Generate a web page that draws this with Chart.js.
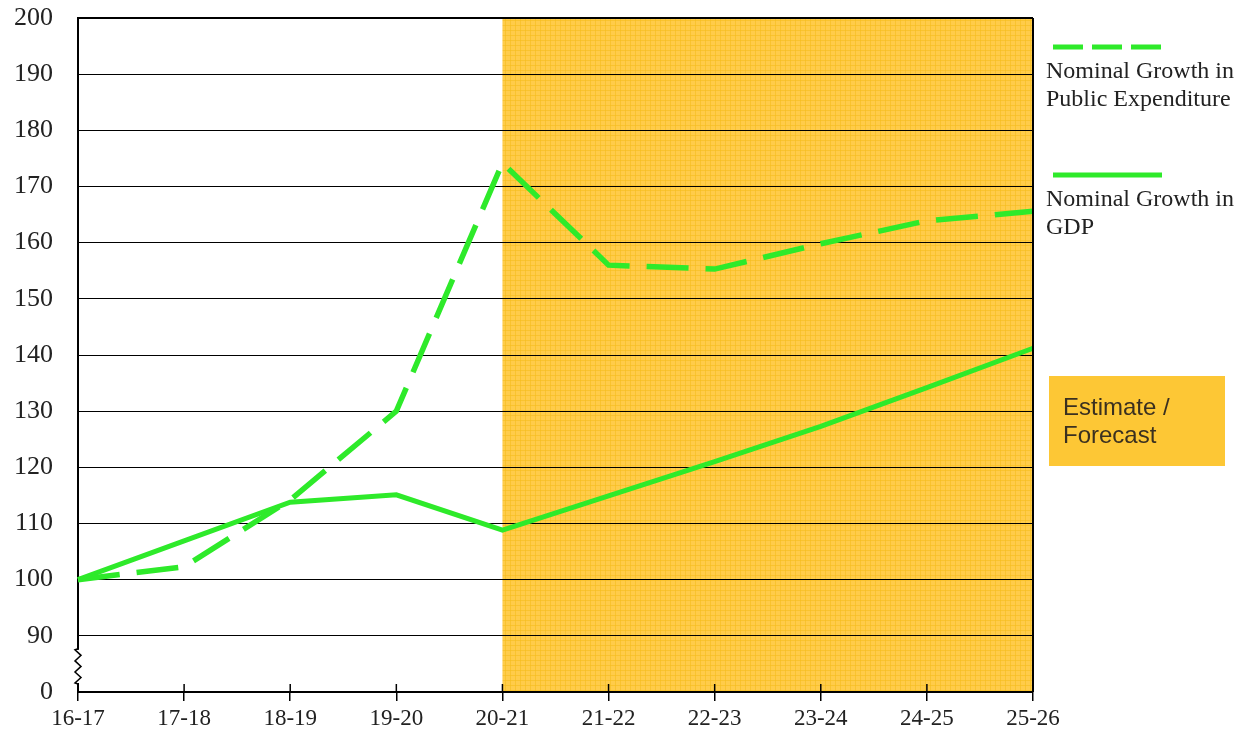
<!DOCTYPE html>
<html>
<head>
<meta charset="utf-8">
<script src="https://cdn.jsdelivr.net/npm/chart.js@4.4.0/dist/chart.umd.min.js"></script>
<style>
  html, body { margin: 0; padding: 0; background: #fff; }
  #wrap { width: 1251px; height: 738px; }
</style>
</head>
<body>
<div id="wrap"><canvas id="chart" width="1251" height="738"></canvas></div>
<script>
// chart data
const years = ['16-17', '17-18', '18-19', '19-20', '20-21', '21-22', '22-23', '23-24', '24-25', '25-26'];
const publicExpenditure = [100, 102.3, 114.2, 130, 174.2, 156, 155.3, 159.8, 163.9, 165.6];
const gdp = [100, 106.9, 113.8, 115.1, 108.8, 114.9, 121, 127.3, 134.2, 141.2];
const yTicks = [80, 90, 100, 110, 120, 130, 140, 150, 160, 170, 180, 190, 200];
const forecastFrom = '20-21';
const forecastTo = '25-26';
const legendItems = [
  { lines: ['Nominal Growth in', 'Public Expenditure'], dashed: true },
  { lines: ['Nominal Growth in', 'GDP'], dashed: false }
];
const forecastLabel = ['Estimate /', 'Forecast'];

const GREEN = '#2EEA2A';
const SERIF = '"Liberation Serif", "Times New Roman", serif';

// orange cross-hatched fill
function makePattern(ctx) {
  const c = document.createElement('canvas');
  c.width = 5; c.height = 5;
  const p = c.getContext('2d');
  p.fillStyle = '#FFCC4A';
  p.fillRect(0, 0, 5, 5);
  p.fillStyle = 'rgba(245,188,30,0.6)';
  p.fillRect(0, 0, 1, 5);
  p.fillRect(0, 0, 5, 1);
  return ctx.createPattern(c, 'repeat');
}

const decorPlugin = {
  id: 'decor',
  beforeDraw(chart) {
    const ctx = chart.ctx;
    const x = chart.scales.x, a = chart.chartArea;
    const x0 = x.getPixelForValue(years.indexOf(forecastFrom));
    const x1 = x.getPixelForValue(years.indexOf(forecastTo));
    ctx.save();
    ctx.fillStyle = makePattern(ctx);
    ctx.fillRect(x0, a.top, x1 - x0, a.bottom - a.top);
    ctx.restore();
  },
  afterDraw(chart) {
    const ctx = chart.ctx;
    const a = chart.chartArea;
    const x = chart.scales.x, y = chart.scales.y;
    ctx.save();

    // right border
    ctx.strokeStyle = '#000';
    ctx.lineWidth = 2;
    ctx.beginPath();
    ctx.moveTo(a.right, a.top);
    ctx.lineTo(a.right, a.bottom);
    ctx.stroke();

    // x tick marks extend above the axis too
    ctx.lineWidth = 1.5;
    years.forEach((_, i) => {
      const px = x.getPixelForValue(i);
      ctx.beginPath();
      ctx.moveTo(px, a.bottom - 8);
      ctx.lineTo(px, a.bottom);
      ctx.stroke();
    });

    // axis break (zigzag)
    const yTop = y.getPixelForValue(90) + 14;
    const yBot = a.bottom - 9;
    ctx.fillStyle = '#fff';
    ctx.fillRect(a.left - 3, yTop, 6, yBot - yTop);
    ctx.strokeStyle = '#000';
    ctx.lineWidth = 1.5;
    ctx.beginPath();
    ctx.moveTo(a.left, yTop - 1);
    const steps = 6;
    for (let i = 0; i <= steps; i++) {
      const yy = yTop + (yBot - yTop) * i / steps;
      ctx.lineTo(a.left + (i % 2 === 0 ? -3 : 3), yy);
    }
    ctx.lineTo(a.left, yBot + 1);
    ctx.stroke();

    // legend on the right
    const lx = a.right + 20;
    const tops = [47, 175];
    legendItems.forEach((item, i) => {
      const ly = tops[i];
      ctx.strokeStyle = GREEN;
      ctx.lineWidth = 5;
      ctx.setLineDash(item.dashed ? [30, 9] : []);
      ctx.beginPath();
      ctx.moveTo(lx, ly);
      ctx.lineTo(lx + 109, ly);
      ctx.stroke();
      ctx.setLineDash([]);
      ctx.fillStyle = '#222';
      ctx.font = '24px ' + SERIF;
      ctx.textAlign = 'left';
      ctx.textBaseline = 'alphabetic';
      item.lines.forEach((t, j) => ctx.fillText(t, lx - 7, ly + 31 + j * 28));
    });

    // forecast box
    const bx = a.right + 16, by = 376;
    ctx.fillStyle = '#FDC735';
    ctx.fillRect(bx, by, 176, 90);
    ctx.fillStyle = '#3a3020';
    ctx.font = '24px "Liberation Sans", Arial, sans-serif';
    forecastLabel.forEach((t, j) => ctx.fillText(t, bx + 14, by + 39 + j * 28));

    ctx.restore();
  }
};

new Chart(document.getElementById('chart'), {
  type: 'line',
  data: {
    labels: years,
    datasets: [
      {
        label: 'Nominal Growth in Public Expenditure',
        data: publicExpenditure,
        borderColor: GREEN,
        borderWidth: 5.5,
        borderDash: [42, 17],
        pointRadius: 0,
        tension: 0,
        fill: false
      },
      {
        label: 'Nominal Growth in GDP',
        data: gdp,
        borderColor: GREEN,
        borderWidth: 5,
        pointRadius: 0,
        tension: 0,
        fill: false
      }
    ]
  },
  options: {
    responsive: false,
    animation: false,
    layout: { padding: { top: 18, right: 218, left: 0, bottom: 0 } },
    plugins: {
      legend: { display: false },
      tooltip: { enabled: false }
    },
    scales: {
      x: {
        offset: false,
        grid: { display: true, drawOnChartArea: false, drawTicks: true, tickLength: 9, color: '#000', lineWidth: 1.5 },
        border: { display: true, color: '#000', width: 2 },
        ticks: { color: '#222', font: { family: SERIF, size: 23 }, padding: 4, maxRotation: 0, autoSkip: false },
        afterFit(scale) { scale.height = 46; }
      },
      y: {
        min: yTicks[0],
        max: yTicks[yTicks.length - 1],
        afterBuildTicks(scale) { scale.ticks = yTicks.map(v => ({ value: v })); },
        grid: {
          drawTicks: false,
          color: ctx => ctx.tick && ctx.tick.value === yTicks[0] ? 'rgba(0,0,0,0)' : '#000',
          lineWidth: ctx => ctx.tick && ctx.tick.value === yTicks[yTicks.length - 1] ? 2 : 1
        },
        border: { display: true, color: '#000', width: 2 },
        ticks: {
          color: '#222',
          font: { family: SERIF, size: 26 },
          padding: 25,
          callback: v => (v === yTicks[0] ? '0' : v)
        },
        afterFit(scale) {
          scale.width = 78;
          scale.paddingTop = 0;
          scale.paddingBottom = 0;
        }
      }
    }
  },
  plugins: [decorPlugin]
});
</script>
</body>
</html>
